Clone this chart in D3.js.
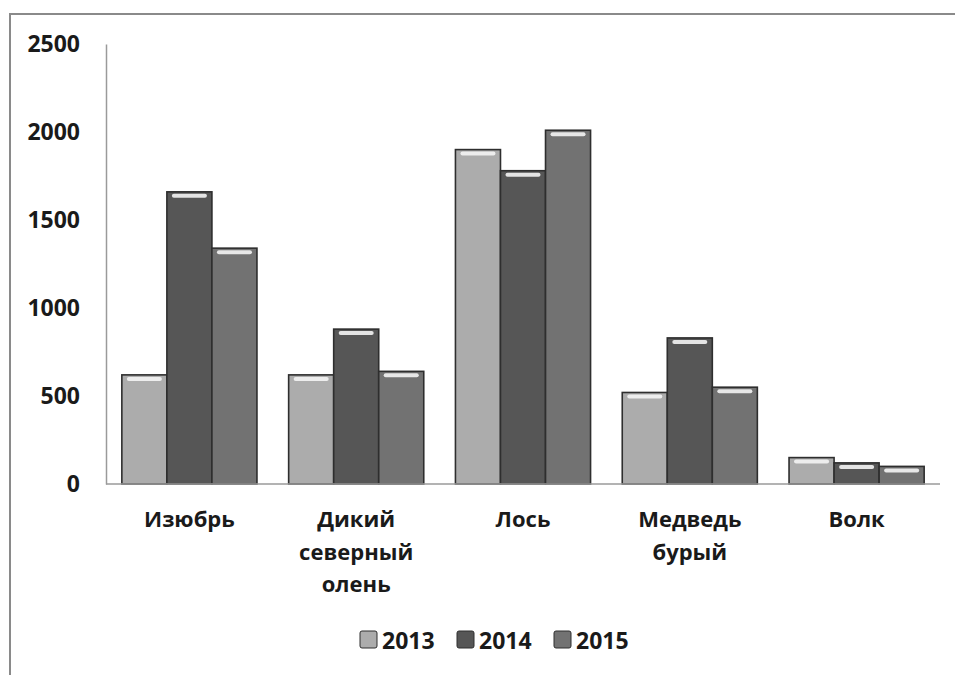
<!DOCTYPE html>
<html>
<head>
<meta charset="utf-8">
<script src="https://cdn.jsdelivr.net/npm/d3@7"></script>
<style>
  body { margin: 0; background: #fff; }
  text { font-family: "Open Sans", sans-serif; font-weight: 700; fill: #1a1a1a; }
</style>
</head>
<body>
<script>
// data
let categories = [["Изюбрь"], ["Дикий", "северный", "олень"], ["Лось"], ["Медведь", "бурый"], ["Волк"]];
let years = ["2013", "2014", "2015"];
let v2013 = [620, 620, 1900, 520, 150];
let v2014 = [1660, 880, 1780, 830, 120];
let v2015 = [1340, 640, 2010, 550, 100];
let yTicks = [0, 500, 1000, 1500, 2000, 2500];

let series = [v2013, v2014, v2015];
let colors = ["#acacac", "#565656", "#727272"];

let width = 955, height = 675;
let margin = {top: 44, right: 15, bottom: 191, left: 106};

let svg = d3.select("body").append("svg")
  .attr("width", width)
  .attr("height", height);

// scanned frame (left and top edges)
svg.append("path")
   .attr("d", `M10,${height} V14 H${width}`)
   .attr("fill", "none")
   .attr("stroke", "#8a8a8a")
   .attr("stroke-width", 2);

let x = d3.scaleBand()
  .domain(d3.range(categories.length))
  .range([margin.left, width - margin.right])
  .paddingInner(0.19)
  .paddingOuter(0.095);

let xs = d3.scaleBand()
  .domain(d3.range(years.length))
  .range([0, x.bandwidth()]);

let y = d3.scaleLinear()
  .domain([0, 2500])
  .range([height - margin.bottom, margin.top]);

// y axis
let yAxis = svg.append("g")
  .attr("transform", `translate(${margin.left},0)`)
  .call(d3.axisLeft(y).tickValues(yTicks).tickFormat(d3.format("d")).tickSize(0).tickPadding(26));
yAxis.select(".domain").attr("stroke", "#9a9a9a").attr("stroke-width", 1.5);
yAxis.selectAll("text").style("font-size", "23px").attr("fill", "#1a1a1a");

// bars
let groups = svg.selectAll(".grp")
  .data(categories)
  .enter().append("g")
  .attr("class", "grp")
  .attr("transform", (d, i) => `translate(${x(i)},0)`);

groups.each(function(c, ci) {
  let g = d3.select(this);
  series.forEach((s, si) => {
    let bx = xs(si), by = y(s[ci]), bw = xs.bandwidth(), bh = y(0) - y(s[ci]);
    g.append("rect")
     .attr("x", bx).attr("y", by)
     .attr("width", bw).attr("height", bh)
     .attr("fill", colors[si])
     .attr("stroke", "#2e2e2e")
     .attr("stroke-width", 1.6);
    // light cap on top of each bar
    g.append("rect")
     .attr("x", bx + 5).attr("y", by + 2)
     .attr("width", bw - 10).attr("height", Math.min(4, bh - 3))
     .attr("rx", 2)
     .attr("fill", "#f4f4f4")
     .attr("opacity", 0.9);
  });
});

// x axis line
svg.append("line")
   .attr("x1", margin.left).attr("x2", width - margin.right)
   .attr("y1", y(0)).attr("y2", y(0))
   .attr("stroke", "#9a9a9a").attr("stroke-width", 1.5);

// category labels
svg.selectAll(".cat")
  .data(categories)
  .enter().append("text")
  .attr("class", "cat")
  .attr("text-anchor", "middle")
  .style("font-size", "22px")
  .each(function(lines, i) {
    d3.select(this).selectAll("tspan")
      .data(lines)
      .enter().append("tspan")
      .attr("x", x(i) + x.bandwidth() / 2)
      .attr("y", (d, k) => y(0) + 43 + k * 32.5)
      .text(d => d);
  });

// legend
let legendX = [360, 457, 554];
let legend = svg.selectAll(".leg")
  .data(years)
  .enter().append("g")
  .attr("class", "leg")
  .attr("transform", (d, i) => `translate(${legendX[i]},640)`);
legend.append("rect")
  .attr("x", 0).attr("y", -9)
  .attr("width", 17).attr("height", 17)
  .attr("rx", 2)
  .attr("fill", (d, i) => colors[i])
  .attr("stroke", "#2e2e2e");
legend.append("text")
  .attr("x", 22).attr("y", 9)
  .style("font-size", "23px")
  .text(d => d);
</script>
</body>
</html>
